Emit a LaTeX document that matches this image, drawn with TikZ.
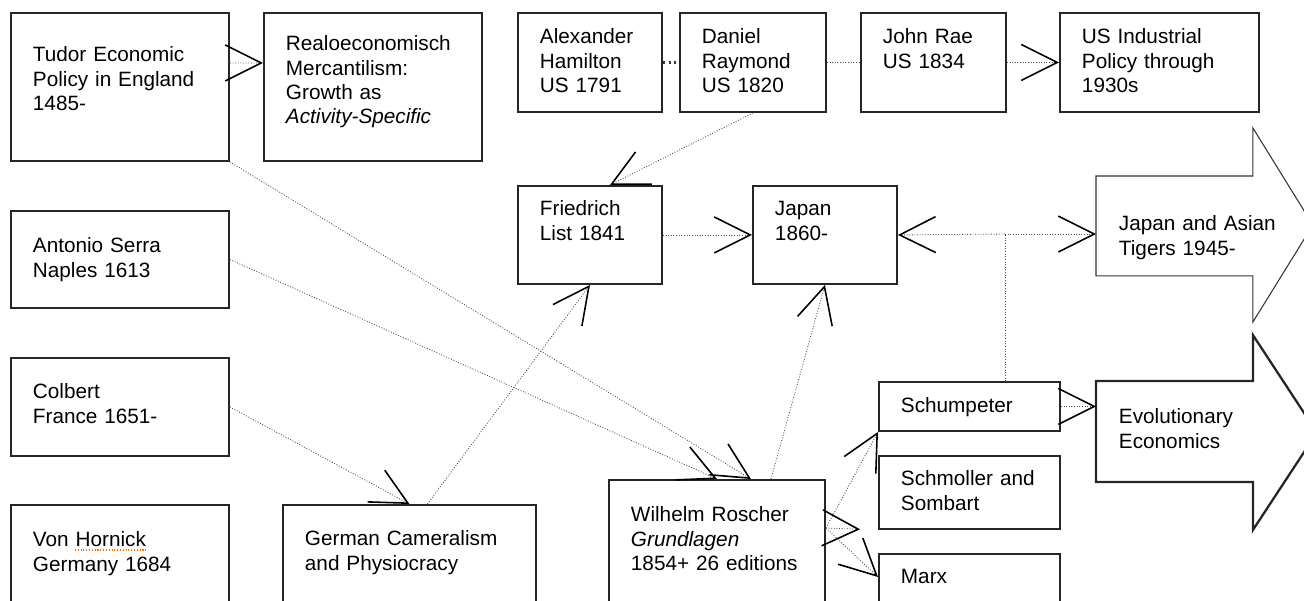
\documentclass[tikz,border=0pt]{standalone}
\usepackage{fontspec}
\setmainfont{Liberation Sans}
\usetikzlibrary{positioning,calc,arrows.meta}
\tikzset{
    % Stile per i riquadri (testo in alto a sinistra)
    block/.style={draw=black!85, line width=1.1pt, rectangle,
                  anchor=north west, align=left,
                  inner xsep=0.44cm, inner ysep=0pt,
                  font=\fontsize{11.8}{13.8}\selectfont},
    % Stile per il corpo delle frecce grandi
    bigarrow/.style={block, draw=none},
    % Stile per i collegamenti punteggiati
    link/.style={densely dotted, black!70, line width=0.5pt,
                 -{Straight Barb[length=0.72cm, width=0.72cm,
                   line width=0.9pt, color=black]}},
    plainlink/.style={densely dotted, black!70, line width=0.5pt}
}
\begin{document}
\begin{tikzpicture}[x=0.02cm, y=-0.02cm]
    \useasboundingbox (0,0) rectangle (1304,600);
    % riquadri
    \node[block, text width=3.48cm, text height=0.98cm, text depth=1.98cm] (tudor) at (10,12)
        {Tudor Economic\\Policy in England\\1485-};
    \node[block, text width=3.48cm, text height=0.76cm, text depth=2.2cm] (realo) at (263,12)
        {Realoeconomisch\\Mercantilism:\\Growth as\\\textit{Activity-Specific}};
    \node[block, text width=2.0cm, text height=0.62cm, text depth=1.36cm] (hamilton) at (517,12)
        {Alexander\\Hamilton\\US 1791};
    \node[block, text width=2.04cm, text height=0.62cm, text depth=1.36cm] (daniel) at (679,12)
        {Daniel\\Raymond\\US 1820};
    \node[block, text width=2.02cm, text height=0.62cm, text depth=1.36cm] (rae) at (860,12)
        {John Rae\\US 1834};
    \node[block, text width=3.1cm, text height=0.62cm, text depth=1.36cm] (usind) at (1059,12)
        {US Industrial\\Policy through\\1930s};
    \node[block, text width=2.0cm, text height=0.6cm, text depth=1.36cm] (list) at (517,185)
        {Friedrich\\List 1841};
    \node[block, text width=2.0cm, text height=0.6cm, text depth=1.36cm] (japan) at (752,185)
        {Japan\\1860-};
    \node[block, text width=3.48cm, text height=0.84cm, text depth=1.1cm] (serra) at (10,210)
        {Antonio Serra\\Naples 1613};
    \node[block, text width=3.48cm, text height=0.82cm, text depth=1.14cm] (colbert) at (10,357)
        {Colbert\\France 1651-};
    \node[block, text width=3.48cm, text height=0.84cm, text depth=1.96cm] (hornick) at (10,504)
        {Von Hornick\\Germany 1684};
    \node[block, text width=4.18cm, text height=0.82cm, text depth=1.98cm] (cameral) at (282,504)
        {German Cameralism\\and Physiocracy};
    \node[block, text width=3.44cm, text height=0.84cm, text depth=2.36cm] (roscher) at (608,479)
        {Wilhelm Roscher\\\textit{Grundlagen}\\1854+ 26 editions};
    \node[block, text width=2.74cm, text height=0.62cm, text depth=0.36cm] (schump) at (878,381)
        {Schumpeter};
    \node[block, text width=2.74cm, text height=0.6cm, text depth=0.86cm] (schmol) at (878,455)
        {Schmoller and\\Sombart};
    \node[block, text width=2.74cm, text height=0.6cm, text depth=1.0cm] (marx) at (878,553)
        {Marx};
    % frecce grandi
    \node[bigarrow, text width=2.22cm, text height=1.08cm, text depth=0.88cm] (tigers) at (1096,176)
        {\mbox{Japan and Asian}\\\mbox{Tigers 1945-}};
    \node[bigarrow, text width=2.22cm, text height=0.84cm, text depth=1.14cm] (evol) at (1096,381)
        {\mbox{Evolutionary}\\Economics};
    \draw[line width=0.6pt, black!80] (tigers.south west) -- (tigers.north west) -- (tigers.north east)
        -- ++(0,-48) -- ++(60,97) -- ++(-60,97) -- (tigers.south east) -- cycle;
    \draw[line width=1.3pt, black!85] (evol.south west) -- (evol.north west) -- (evol.north east)
        -- ++(0,-46) -- ++(64,97.5) -- ++(-64,97.5) -- (evol.south east) -- cycle;
    % segno del correttore
    \draw[orange!90!red, densely dotted, line width=0.6pt]
        ([shift={(1.3cm,-0.92cm)}]hornick.north west) -- ++(72,0);
    % collegamenti
    \draw[link] ([yshift=0.48cm]tudor.east) -- ([yshift=0.48cm]realo.west);
    \draw[dotted, line width=1.2pt, black!80] (hamilton.east) -- (daniel.west);
    \draw[plainlink] (daniel.east) -- (rae.west);
    \draw[link] (rae.east) -- (usind.west);
    \draw[link] (daniel.south) -- ([xshift=0.4cm]list.north);
    \draw[link] (list.east) -- (japan.west);
    \coordinate (jn) at (1005,234);
    \draw[link] (jn) -- (japan.east);
    \draw[link] (jn) -- (tigers.west |- jn);
    \draw[plainlink] (schump.north -| jn) -- (jn);
    \draw[link] (schump.east) -- (evol.west |- schump.east);
    \coordinate (rosout) at ([yshift=-0.98cm]roscher.north east);
    \draw[link] (rosout) -- (schump.south west);
    \draw[link, shorten >=0.36cm] (rosout) -- (schmol.south west);
    \draw[link] (rosout) -- ([yshift=-0.48cm]marx.north west);
    \draw[link] ([xshift=1.08cm]roscher.north) -- (japan.south);
    \draw[link] ([xshift=0.36cm]cameral.north) -- (list.south);
    \draw[link] (colbert.east) -- (cameral.north);
    \draw[link] (tudor.south east) -- ([xshift=0.68cm]roscher.north);
    \draw[link] (serra.east) -- (roscher.north);
\end{tikzpicture}
\end{document}
